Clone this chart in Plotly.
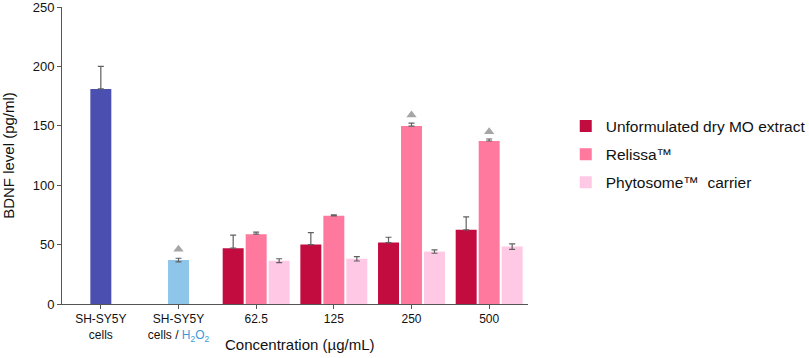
import plotly.graph_objects as go

categories = ["ctrl", "h2o2", "62.5", "125", "250", "500"]
tick_labels = ["SH-SY5Y<br>cells",
               "SH-SY5Y<br>cells / <span style='color:#3a9ad9'>H<sub>2</sub>O<sub>2</sub></span>",
               "62.5", "125", "250", "500"]

ctrl_val = [181]
ctrl_err = [19]
h2o2_val = [37]
h2o2_err = [1.5]

conc = ["62.5", "125", "250", "500"]
unform_val = [47, 50, 51.7, 62.4]
unform_err = [11, 10, 4.5, 11]
relissa_val = [58.8, 74.2, 149.8, 137.2]
relissa_err = [1.7, 0.8, 2.5, 1.7]
phyto_val = [36.5, 38, 44.1, 48.3]
phyto_err = [1.6, 1.8, 1.4, 2.3]

sig_x = ["h2o2", "250", "500"]
sig_y = [46, 159, 145]

W = 0.27
G = 0.296
ecol = "#606060"

fig = go.Figure()
fig.add_trace(go.Bar(x=["ctrl"], y=ctrl_val, width=W, offset=-W/2,
                     marker=dict(color="#4b4fb0", line_width=0), showlegend=False,
                     error_y=dict(type="data", array=ctrl_err, arrayminus=[0], symmetric=False,
                                  color=ecol, thickness=1.2, width=3)))
fig.add_trace(go.Bar(x=["h2o2"], y=h2o2_val, width=W, offset=-W/2,
                     marker=dict(color="#8ec6ea", line_width=0), showlegend=False,
                     error_y=dict(type="data", array=h2o2_err, color=ecol, thickness=1.2, width=3)))
fig.add_trace(go.Bar(x=conc, y=unform_val, width=W, offset=-W/2 - G,
                     name="Unformulated dry MO extract", legendgroup="a",
                     marker=dict(color="#c20c40", line_width=0),
                     error_y=dict(type="data", array=unform_err, arrayminus=[0]*4, symmetric=False,
                                  color=ecol, thickness=1.2, width=3)))
fig.add_trace(go.Bar(x=conc, y=relissa_val, width=W, offset=-W/2,
                     name="Relissa™", legendgroup="b",
                     marker=dict(color="#ff799e", line_width=0),
                     error_y=dict(type="data", array=relissa_err, arrayminus=[0]*4, symmetric=False,
                                  color=ecol, thickness=1.2, width=3)))
fig.add_trace(go.Bar(x=conc, y=phyto_val, width=W, offset=-W/2 + G,
                     name="Phytosome™  carrier", legendgroup="c",
                     marker=dict(color="#ffc9e5", line_width=0),
                     error_y=dict(type="data", array=phyto_err, color=ecol, thickness=1.2, width=3)))
fig.add_trace(go.Scatter(x=sig_x, y=sig_y, mode="markers", showlegend=False,
                         marker=dict(symbol="triangle-up", size=9, color="#a6a6a6")))

fig.update_layout(
    width=809, height=358,
    margin=dict(l=62, r=281, t=7, b=54, autoexpand=False),
    paper_bgcolor="white", plot_bgcolor="white",
    barmode="overlay",
    font=dict(family="Liberation Sans, Arial", size=12, color="#111111"),
    legend=dict(x=1.081, y=0.655, xanchor="left", yanchor="top",
                font=dict(size=15.5, color="#111111"), itemwidth=30,
                tracegroupgap=5, bgcolor="rgba(0,0,0,0)"),
    xaxis=dict(type="category", categoryorder="array", categoryarray=categories,
               range=[-0.5, 5.5], tickmode="array", tickvals=categories, ticktext=tick_labels,
               showline=True, linecolor="#555555", linewidth=1, automargin=False,
               ticks="outside", ticklen=4, tickcolor="#555555"),
    yaxis=dict(range=[0, 250], tickvals=[0, 50, 100, 150, 200, 250],
               tickfont=dict(size=13), automargin=False, ticklabeloverflow="allow",
               showline=True, linecolor="#555555", linewidth=1, showgrid=False,
               ticks="outside", ticklen=4, tickcolor="#555555", zeroline=False,
               title=dict(text="BDNF level (pg/ml)", font=dict(size=15), standoff=16)),
    annotations=[dict(text="Concentration (µg/mL)", xref="paper", yref="paper",
                      x=0.51, y=-0.135, xanchor="center", yanchor="middle",
                      showarrow=False, font=dict(size=15, color="#111111"))],
)

fig.write_html("out.html", config={"displayModeBar": False},
               post_script="document.body.style.margin='0';document.body.style.overflow='hidden';")
